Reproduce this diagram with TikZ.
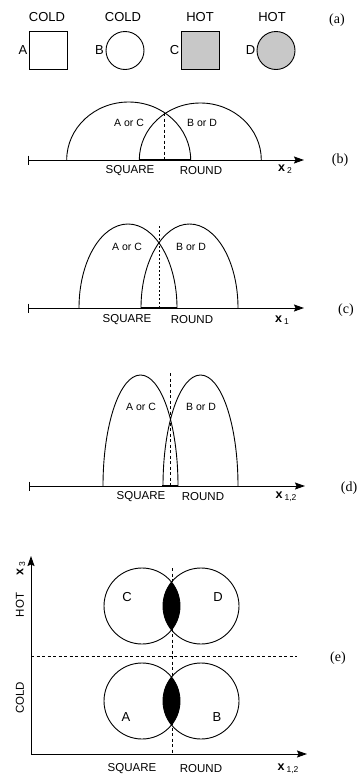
\documentclass[tikz,border=0pt]{standalone}
\usepackage{fontspec}
\setmainfont{Liberation Serif}
\setsansfont{Liberation Sans}
\usetikzlibrary{arrows.meta, positioning}
\definecolor{hotgray}{RGB}{200, 200, 200}

\tikzset{
  axis/.style={line width=1pt, -{Stealth[length=10pt, width=7pt, inset=1.5pt]}},
  curve/.style={line width=0.9pt},
  overlap/.style={line width=2.8pt},
  divide/.style={line width=0.7pt, dash pattern=on 3pt off 2.5pt},
  head/.style={font=\sffamily\fontsize{13}{13}\selectfont, inner sep=0pt},
  lab/.style={font=\sffamily\fontsize{10.5}{10.5}\selectfont, inner sep=0pt},
  axlab/.style={font=\sffamily\fontsize{11.5}{11.5}\selectfont, inner sep=0pt},
  varlab/.style={font=\sffamily\fontsize{12.5}{12.5}\selectfont, inner sep=0pt},
  panel/.style={font=\fontsize{14}{14}\selectfont, inner sep=0pt},
}
\newcommand{\xvar}[1]{\textbf{x}\,{\fontsize{8.5}{8.5}\selectfont\raisebox{-0.35ex}{#1}}}

\begin{document}
\begin{tikzpicture}[x=1pt, y=-1pt]
  \useasboundingbox (0,0) rectangle (363,774);

  % (a) the four objects
  \node[draw, line width=0.9pt, minimum size=38pt] (sqA) at (48.5,50.5) {};
  \node[draw, line width=0.9pt, circle, minimum size=38pt] (circB) at (125,50.5) {};
  \node[draw, line width=0.9pt, fill=hotgray, minimum size=38pt] (sqC) at (200,50) {};
  \node[draw, line width=0.9pt, fill=hotgray, circle, minimum size=38pt] (circD) at (276,50.5) {};
  \node[head, left=1.5pt of sqA] (labA) {A};
  \node[head, left=1.5pt of circB] (labB) {B};
  \node[head, left=1pt of sqC] (labC) {C};
  \node[head, left=1pt of circD] (labD) {D};
  \node[head] (coldA) at (47,17) {COLD};
  \node[head] (coldB) at (123,17) {COLD};
  \node[head] (hotC) at (200,17) {HOT};
  \node[head] (hotD) at (272,17) {HOT};
  \node[panel] (pa) at (337,20) {(a)};

  % (b) one feature, broad curves
  \coordinate (b0) at (28,160);
  \coordinate (b1) at (304,160);
  \coordinate (bx) at (164,113);
  \draw[axis] (b0) -- (b1);
  \draw[curve] (b0) ++(0,-4.5) -- ++(0,9);
  \draw[curve] (66.7,160) arc[start angle=180, end angle=360, x radius=62, y radius=58];
  \draw[curve] (139.3,160) arc[start angle=180, end angle=360, x radius=61, y radius=57];
  \draw[overlap] (139.3,160) -- (191,160);
  \draw[divide] (bx) -- (bx |- b0);
  \node[lab] (bAC) at (129,123) {A or C};
  \node[lab] (bBD) at (202,123) {B or D};
  \node[axlab] (bsq) at (130,171) {SQUARE};
  \node[axlab] (bro) at (201,171) {ROUND};
  \node[varlab] (bvar) at (285,169) {\xvar{2}};
  \node[panel] (pb) at (340,160) {(b)};

  % (c) other feature, narrower curves
  \coordinate (c0) at (28,308);
  \coordinate (c1) at (304,308);
  \coordinate (cx) at (159,226);
  \draw[axis] (c0) -- (c1);
  \draw[curve] (c0) ++(0,-4.5) -- ++(0,9);
  \draw[curve] (79,308) arc[start angle=180, end angle=360, x radius=49, y radius=84];
  \draw[curve] (141,308) arc[start angle=180, end angle=360, x radius=48.5, y radius=84];
  \draw[overlap] (141,308) -- (177,308);
  \draw[divide, dash pattern=on 2pt off 2pt] (cx) -- (cx |- c0);
  \node[lab] (cAC) at (127,247) {A or C};
  \node[lab] (cBD) at (191,247) {B or D};
  \node[axlab] (csq) at (127,320) {SQUARE};
  \node[axlab] (cro) at (192,320) {ROUND};
  \node[varlab] (cvar) at (282,320) {\xvar{1}};
  \node[panel] (pc) at (346,310) {(c)};

  % (d) both features combined
  \coordinate (d0) at (29,486);
  \coordinate (d1) at (305,486);
  \coordinate (dx) at (170,373);
  \draw[axis] (d0) -- (d1);
  \draw[curve] (d0) ++(0,-4.5) -- ++(0,9);
  \draw[curve] (103,486) arc[start angle=180, end angle=360, x radius=37.5, y radius=111];
  \draw[curve] (163,486) arc[start angle=180, end angle=360, x radius=37.5, y radius=111];
  \draw[overlap] (162,486) -- (178,486);
  \draw[divide] (dx) -- (dx |- d0);
  \node[lab] (dAC) at (141,407) {A or C};
  \node[lab] (dBD) at (201,407) {B or D};
  \node[axlab] (dsq) at (141,497) {SQUARE};
  \node[axlab] (dro) at (203,497) {ROUND};
  \node[varlab] (dvar) at (286,497) {\xvar{1,2}};
  \node[panel] (pd) at (349,488) {(d)};

  % (e) shape against temperature
  \coordinate (e0) at (31,754);
  \coordinate (e1) at (307,754);
  \coordinate (e2) at (31,556);
  \coordinate (ev) at (172,568);
  \coordinate (eh) at (297,656);
  \draw[axis] (e0) -- (e1);
  \draw[axis] (e0) -- (e2);
  \draw[divide] (ev) -- (ev |- e0);
  \draw[divide] (e0 |- eh) -- (eh);
  \foreach \cy in {606, 701} {
    \begin{scope}
      \clip (142,\cy) circle[radius=38];
      \fill (201,\cy) circle[radius=38];
    \end{scope}
    \draw[curve] (142,\cy) circle[radius=38];
    \draw[curve] (201,\cy) circle[radius=38];
  }
  \node[head] (eC) at (127,597) {C};
  \node[head] (eD) at (218,597) {D};
  \node[head] (eA) at (126,717) {A};
  \node[head] (eB) at (217,717) {B};
  \node[axlab, rotate=90] (ehot) at (20,605) {HOT};
  \node[axlab, rotate=90] (ecold) at (20,698) {COLD};
  \node[varlab, rotate=90] (evar3) at (21,569) {\xvar{3}};
  \node[axlab] (esq) at (132,769) {SQUARE};
  \node[axlab] (ero) at (201,769) {ROUND};
  \node[varlab] (evar) at (288,769) {\xvar{1,2}};
  \node[panel] (pe) at (338,658) {(e)};
\end{tikzpicture}
\end{document}
